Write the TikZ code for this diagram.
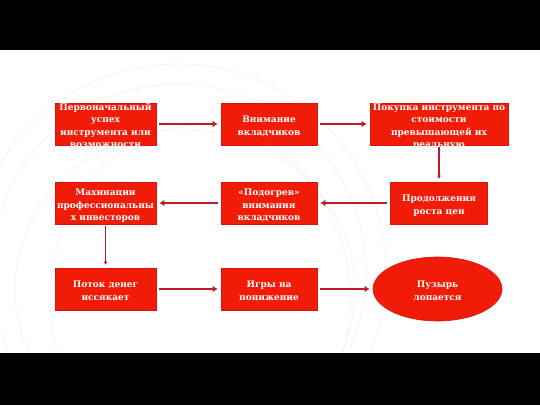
\documentclass[tikz,border=0pt]{standalone}
\usepackage{fontspec}
\setmainfont{DejaVu Serif}
\usetikzlibrary{arrows.meta,shapes.geometric,positioning}

\definecolor{boxred}{RGB}{240,28,8}
\definecolor{edgered}{RGB}{212,22,18}
\definecolor{arrowred}{RGB}{186,30,36}
\definecolor{swirl}{RGB}{249,240,240}

% text is centred on the box and may run over its edges
\newcommand{\boxlabel}[1]{\makebox[0pt]{\smash{\raisebox{-4.8pt}{\begin{tabular}{@{}c@{}}#1\end{tabular}}}}}

\tikzset{
  blk/.style={rectangle, fill=boxred, draw=edgered, line width=0.6pt,
    minimum width=#1, minimum height=42pt, inner sep=0pt, text=white,
    font=\fontsize{9}{12.4}\selectfont\bfseries},
  bubble/.style={ellipse, fill=boxred, draw=edgered, line width=0.6pt,
    minimum width=129pt, minimum height=64pt, inner sep=0pt, text=white,
    font=\fontsize{9}{12.4}\selectfont\bfseries},
  flow/.style={arrowred, line width=2.3pt, -{Latex[length=5pt,width=6.5pt]},
    shorten <=3pt, shorten >=3pt},
  drop/.style={arrowred, line width=1.3pt, -{Latex[length=3pt,width=4pt]},
    shorten <=2pt, shorten >=3pt}
}

\begin{document}
\begin{tikzpicture}[x=1pt,y=-1pt]
\useasboundingbox (0,0) rectangle (540,405);
\fill[white] (0,0) rectangle (540,405);

% faint swirls in the background
\begin{scope}[swirl, line width=0.7pt]
\clip (0,50) rectangle (540,353);
\draw (178,272) circle (188);
\draw (178,272) circle (208);
\draw (185,290) ellipse (170 and 160);
\draw (200,300) ellipse (150 and 175);
\end{scope}

% black bands
\fill[black] (0,0) rectangle (540,50);
\fill[black] (0,353) rectangle (540,405);

% first row
\node[blk=101pt] (b1) at (105.5,124) {\boxlabel{Первоначальный\\успех\\инструмента или\\возможности}};
\node[blk=96pt] (b2) at (269,124) {\boxlabel{Внимание\\вкладчиков}};
\node[blk=138pt] (b3) at (439,124) {\boxlabel{Покупка инструмента по\\стоимости\\превышающей их\\реальную}};

% second row
\node[blk=101pt] (b4) at (105.5,203) {\boxlabel{Махинации\\профессиональны\\х инвесторов}};
\node[blk=96pt] (b5) at (269,203) {\boxlabel{«Подогрев»\\внимания\\вкладчиков}};
\node[blk=97pt] (b6) at (439,203) {\boxlabel{Продолжения\\роста цен}};

% third row
\node[blk=101pt] (b7) at (105.5,289) {\boxlabel{Поток денег\\иссякает}};
\node[blk=96pt] (b8) at (269,289) {\boxlabel{Игры на\\понижение}};
\node[bubble] (pop) at (437.5,289) {\boxlabel{Пузырь\\лопается}};

\draw[flow] (b1) -- (b2);
\draw[flow] (b2) -- (b3);
\draw[drop] (b3) -- (b6);
\draw[flow] (b6) -- (b5);
\draw[flow] (b5) -- (b4);
\draw[drop] (b4) -- (b7);
\draw[flow] (b7) -- (b8);
\draw[flow] (b8) -- (pop);

\end{tikzpicture}
\end{document}
